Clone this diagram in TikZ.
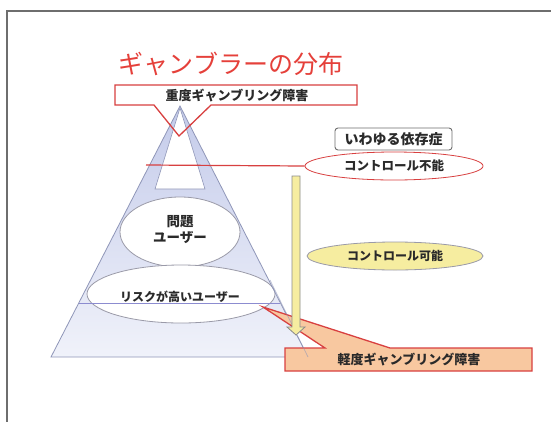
\documentclass[tikz,border=0pt]{standalone}
\usepackage{fontspec}
\setmainfont{Noto Sans CJK JP}
\usetikzlibrary{shapes.geometric}
\definecolor{titlered}{HTML}{E5403A}
\definecolor{callred}{HTML}{D84040}
\definecolor{peach}{HTML}{F8C8A0}
\definecolor{paleyellow}{HTML}{F6EDA0}
\definecolor{ellgray}{HTML}{9A9AA8}
\definecolor{framegray}{HTML}{6E6E6E}
\definecolor{pyrtop}{HTML}{C4CBEA}
\definecolor{pyrbot}{HTML}{F0F2FA}
\definecolor{edgegray}{HTML}{8F96B8}
\definecolor{blueline}{HTML}{8C8CD0}
\definecolor{txt}{HTML}{2A2A2A}
\tikzset{
  lbl/.style={text=txt, font=\fontsize{13}{16}\selectfont\bfseries, inner sep=0pt, align=center},
  ellbox/.style={ellipse, inner sep=0pt, line width=0.8pt},
  calloutline/.style={draw=callred, line width=1.3pt, line join=miter},
  pyredge/.style={draw=edgegray, line width=0.8pt}
}
\begin{document}
\begin{tikzpicture}[x=1pt,y=-1pt]
\useasboundingbox (0,0) rectangle (551,421);
\fill[white] (0,0) rectangle (551,421);
% frame
\draw[framegray, line width=1.5pt] (7,425) -- (7,11) -- (555,11);

% title
\node[text=titlered, font=\fontsize{25}{25}\selectfont, inner sep=0pt] (title) at (231,64) {ギャンブラーの分布};

% pyramid
\coordinate (apex) at (180,106);
\coordinate (bl) at (51,357);
\coordinate (br) at (308,357);
\shade[top color=pyrtop, bottom color=pyrbot] (apex) -- (br) -- (bl) -- cycle;
\filldraw[fill=white, pyredge, line width=0.6pt] (180,108) -- (205,189) -- (155,189) -- cycle;

\node[ellbox, draw=ellgray, fill=white, minimum width=120pt, minimum height=70pt] (prob) at (180,232) {};
\node[lbl, font=\fontsize{13.5}{16}\selectfont\bfseries] (probtext) at (180,230) {問題\\ユーザー};
\node[ellbox, draw=ellgray, fill=white, minimum width=188pt, minimum height=58pt] (risk) at (181,294) {};
\node[lbl, font=\fontsize{12}{14}\selectfont\bfseries] (risktext) at (180,297) {リスクが高いユーザー};

\coordinate (bll) at (78.5,303);
\coordinate (blr) at (280,303);
\draw[blueline, line width=1pt] (bll) -- (blr);
\draw[pyredge] (apex) -- (br) -- (bl) -- cycle;

% right side labels
\node[draw=framegray, rounded corners=3pt, fill=white, line width=0.9pt, minimum width=117pt, minimum height=22pt, inner sep=0pt, text=txt, font=\fontsize{14}{14}\selectfont\bfseries] (dep) at (393.5,139) {いわゆる依存症};
\node[ellbox, draw=callred, fill=white, minimum width=178pt, minimum height=28pt, text=txt, font=\fontsize{12.5}{14}\selectfont\bfseries] (ctrl) at (394,166) {コントロール不能};
\coordinate (rs) at (146,165);
\draw[callred, line width=1.2pt] (rs) -- (ctrl.west);

\node[ellbox, draw=ellgray, fill=paleyellow, minimum width=176pt, minimum height=28pt, text=txt, font=\fontsize{12}{14}\selectfont\bfseries] (poss) at (395,256) {コントロール可能};

% top callout
\fill[white] (115,85) rectangle (357,105);
\draw[calloutline] (115,85) -- (357,85) -- (357,105) -- (211,105) -- (179,136) -- (154,105) -- (115,105) -- cycle;
\node[lbl, font=\fontsize{13}{14}\selectfont\bfseries] (severe) at (237,96) {重度ギャンブリング障害};

% bottom callout
\filldraw[fill=peach, calloutline] (285,348) -- (325,348) -- (263,307) -- (390,348) -- (532,348) -- (532,371) -- (285,371) -- cycle;
\draw[edgegray, line width=0.7pt, opacity=0.6] (270,280) -- (br);
\node[lbl, font=\fontsize{13}{14}\selectfont\bfseries] (mild) at (409,360) {軽度ギャンブリング障害};

% arrow
\filldraw[fill=paleyellow, draw=framegray!80, line width=0.8pt] (292,176) -- (300,176) -- (300,327) -- (305,327) -- (296,335) -- (287,327) -- (292,327) -- cycle;
\end{tikzpicture}
\end{document}
